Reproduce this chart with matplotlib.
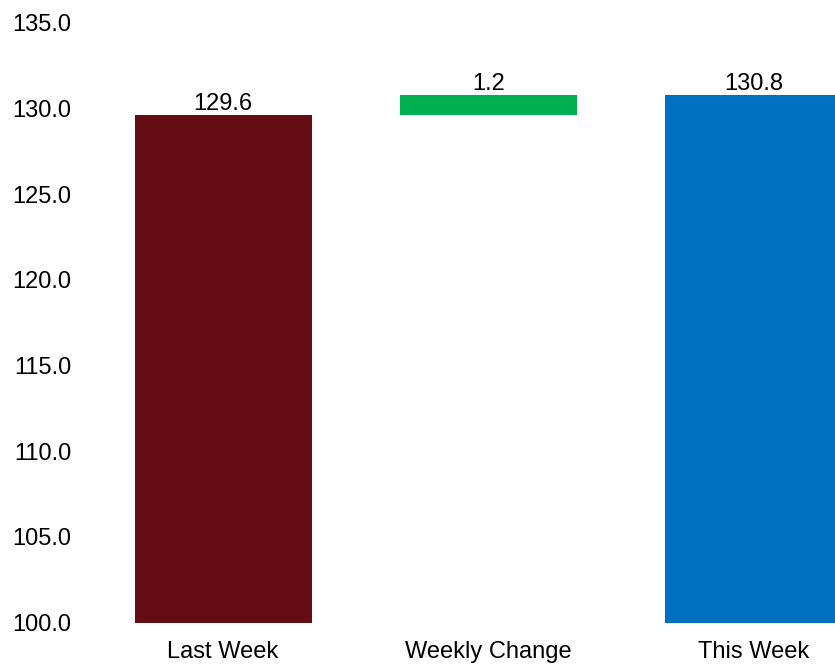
import matplotlib
matplotlib.use("Agg")
import matplotlib.pyplot as plt
from matplotlib.ticker import FormatStrFormatter

categories = ["Last Week", "Weekly Change", "This Week"]
last_week = 129.6
weekly_change = 1.2
this_week = 130.8
y_ticks = [100, 105, 110, 115, 120, 125, 130, 135]

values = [last_week, weekly_change, this_week]
bottoms = [100, last_week, 100]
heights = [last_week - 100, weekly_change, this_week - 100]
colors = ["#640D12", "#00B050", "#0070C0"]
labels = ["%.1f" % v for v in values]

plt.rcParams['font.family'] = ['Liberation Sans', 'DejaVu Sans']

fig = plt.figure(figsize=(8.35, 6.64), dpi=100)
ax = fig.add_axes([90.5 / 835, 41.3 / 664, 795.5 / 835, 600 / 664])
x = list(range(len(categories)))
bars = ax.bar(x, heights, bottom=bottoms, width=0.667, color=colors)
for b, lab in zip(bars, labels):
    ax.annotate(lab, (b.get_x() + b.get_width() / 2, b.get_y() + b.get_height()),
                xytext=(0, 3.6), textcoords="offset points",
                ha="center", va="baseline", fontsize=17, color="black")

ax.set_xlim(-0.5, 2.5)
ax.set_ylim(100, 135)
ax.set_yticks(y_ticks)
ax.yaxis.set_major_formatter(FormatStrFormatter("%.1f"))
ax.set_xticks(x)
ax.set_xticklabels(categories)
ax.tick_params(axis='y', length=0, pad=13.5, labelsize=17)
ax.tick_params(axis='x', length=0, pad=13, labelsize=17)
for s in ax.spines.values():
    s.set_visible(False)

fig.savefig("out.png", dpi=100)
